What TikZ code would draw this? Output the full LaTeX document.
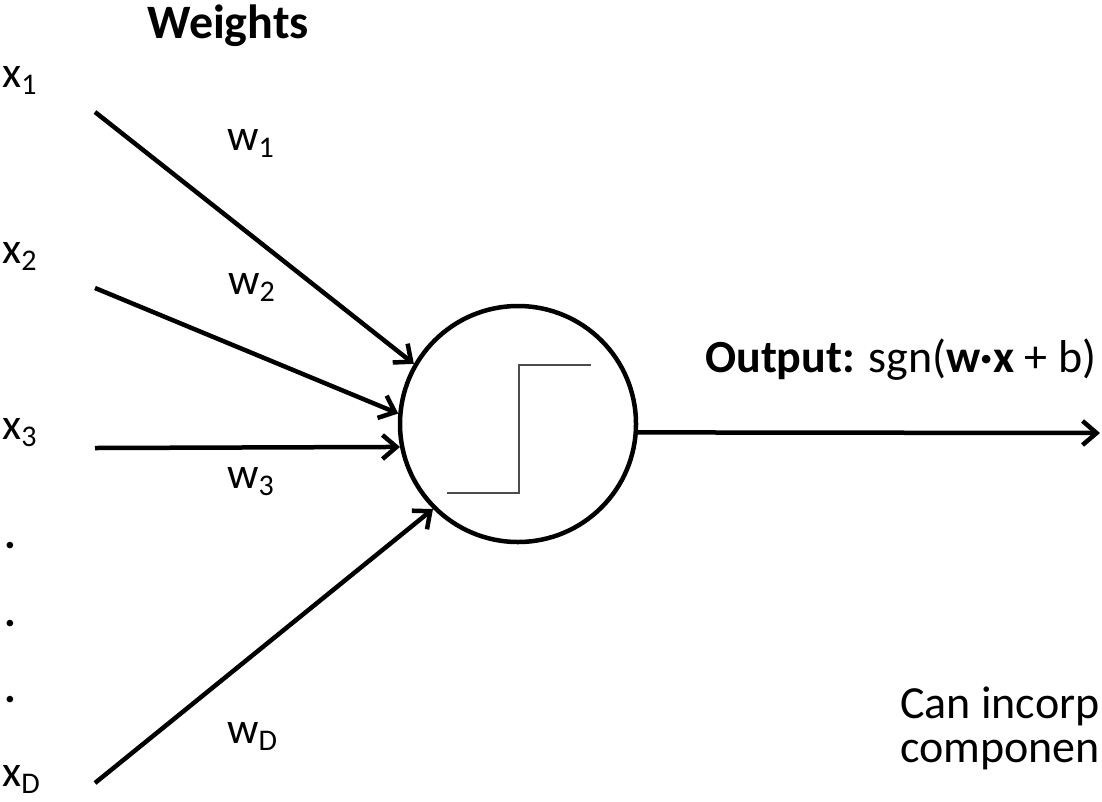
\documentclass[tikz,border=0pt]{standalone}
\usepackage{fontspec}
\setmainfont{Carlito}
\usetikzlibrary{arrows.meta}
\newcommand\lsub[1]{\raisebox{-0.17em}{\fontsize{30}{31}\selectfont #1}}
\begin{document}
\begin{tikzpicture}[x=1pt,y=-1pt,
  lbl/.style={anchor=base west,inner sep=0pt,font=\fontsize{44}{50}\selectfont},
  ttl/.style={anchor=base west,inner sep=0pt,font=\fontsize{46}{52}\selectfont},
  ttlb/.style={ttl,font=\bfseries\fontsize{48}{52}\selectfont},
  wire/.style={line width=4.5pt,-{Straight Barb[length=14pt,width=24pt]}},
  stepfn/.style={line width=1.5pt,color=black!70},
  neuron/.style={circle,draw,line width=4.5pt,minimum size=236pt,inner sep=0pt}]
\useasboundingbox (0,0) rectangle (1102,801);
\clip (0,0) rectangle (1102,801);
\fill[white] (0,0) rectangle (1102,801);
% neuron
\node[neuron] (n) at (518,424) {};
\draw[stepfn] (447,493) -- (519,493) -- (519,365) -- (591,365);
% inputs
\coordinate (s1) at (95,112);
\coordinate (s2) at (95,288);
\coordinate (s3) at (95,448);
\coordinate (sD) at (95,783);
\coordinate (o) at (1100,433);
\draw[wire] (s1) -- (n.150.7);
\draw[wire] (s2) -- (n.175.4);
\draw[wire] (s3) -- (n.191.2);
\draw[wire] (sD) -- (n.225);
\draw[wire] (n.-4.3) -- (o);
% labels
\node[ttlb] (wt) at (147,38) {Weights};
\node[lbl] (x1) at (2,87) {x\lsub{1}};
\node[lbl] (x2) at (2,263) {x\lsub{2}};
\node[lbl] (x3) at (2,439) {x\lsub{3}};
\node[lbl,font=\bfseries\fontsize{44}{50}\selectfont] (d1) at (4,548) {.};
\node[lbl,font=\bfseries\fontsize{44}{50}\selectfont] (d2) at (4,626) {.};
\node[lbl,font=\bfseries\fontsize{44}{50}\selectfont] (d3) at (4,702) {.};
\node[lbl] (xD) at (2,786) {x\lsub{D}};
\node[lbl] (w1) at (227,150) {w\lsub{1}};
\node[lbl] (w2) at (228,294) {w\lsub{2}};
\node[lbl] (w3) at (227,488) {w\lsub{3}};
\node[lbl] (wD) at (227,743) {w\lsub{D}};
\node[ttl] (out) at (705,372) {\textbf{Output:} sgn(\textbf{w·x} + b)};
\node[ttl] (c1) at (900,718) {Can incorp};
\node[ttl] (c2) at (900,762) {componen};
\end{tikzpicture}
\end{document}
